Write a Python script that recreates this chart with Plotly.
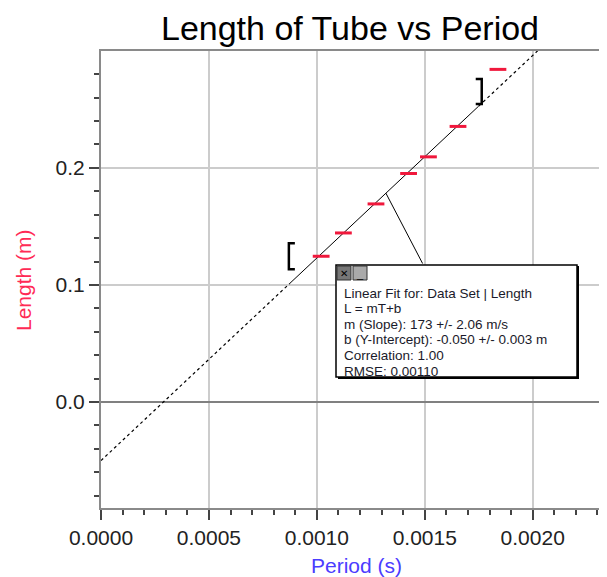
import numpy as np
import plotly.graph_objects as go

# ---- data ----
period = [0.00102, 0.001123, 0.001274, 0.001425, 0.001517, 0.001654, 0.001839]
length = [0.1245, 0.1444, 0.1692, 0.1952, 0.2094, 0.2354, 0.2841]

slope = 173.0
intercept = -0.050
fit_start, fit_end = 0.000875, 0.00175
fit_text = ["Linear Fit for: Data Set | Length",
            "L = mT+b",
            "m (Slope): 173 +/- 2.06 m/s",
            "b (Y-Intercept): -0.050 +/- 0.003 m",
            "Correlation: 1.00",
            "RMSE: 0.00110"]

x_range = [0, 0.002335]
y_range = [-0.0905, 0.2998]

FONT = "Liberation Sans, Arial, sans-serif"
OFF = 8  # page body margin

fig = go.Figure()

def fline(t0, t1):
    t = np.array([t0, t1])
    return t, slope * t + intercept

t, l = fline(0, fit_start)
fig.add_trace(go.Scatter(x=t, y=l, mode="lines", line=dict(color="black", width=1.2, dash="dot"), hoverinfo="skip"))
t, l = fline(fit_start, fit_end)
fig.add_trace(go.Scatter(x=t, y=l, mode="lines", line=dict(color="black", width=1), hoverinfo="skip"))
t, l = fline(fit_end, 0.0022)
fig.add_trace(go.Scatter(x=t, y=l, mode="lines", line=dict(color="black", width=1.2, dash="dot"), hoverinfo="skip"))

fig.add_trace(go.Scatter(x=period, y=length, mode="markers",
                         marker=dict(symbol="line-ew", size=12, line=dict(color="#f0183c", width=3))))

shapes = []
shapes.append(dict(type="path", xref="x", yref="y", xsizemode="pixel", ysizemode="pixel",
                   xanchor=fit_start, yanchor=length[0],
                   path="M 5,13 L -1,13 L -1,-13 L 5,-13", line=dict(color="black", width=2.5)))
shapes.append(dict(type="path", xref="x", yref="y", xsizemode="pixel", ysizemode="pixel",
                   xanchor=fit_end, yanchor=slope * fit_end + intercept,
                   path="M -3,27 L 3,27 L 3,2 L -3,2", line=dict(color="black", width=2.5)))

cx = 0.00132
shapes.append(dict(type="line", xref="x", yref="y", x0=cx, y0=slope * cx + intercept,
                   x1=0.00149, y1=0.1183, line=dict(color="black", width=1)))

def px(x):
    return (x - 101) / 504
def py(y):
    return (508 - y) / 457

shapes.append(dict(type="rect", xref="paper", yref="paper", x0=px(338), x1=px(579), y0=py(379), y1=py(266),
                   line=dict(color="black", width=0), fillcolor="black"))
shapes.append(dict(type="rect", xref="paper", yref="paper", x0=px(336), x1=px(577), y0=py(377), y1=py(265),
                   line=dict(color="black", width=1.5), fillcolor="white"))
shapes.append(dict(type="rect", xref="paper", yref="paper", x0=px(337), x1=px(351), y0=py(280), y1=py(266),
                   line=dict(color="#333", width=1), fillcolor="#777"))
shapes.append(dict(type="rect", xref="paper", yref="paper", x0=px(353), x1=px(367), y0=py(280), y1=py(266),
                   line=dict(color="#333", width=1), fillcolor="#aaa"))

annotations = []
for i, line in enumerate(fit_text):
    annotations.append(dict(xref="paper", yref="paper", x=px(342), y=py(293 + i * 15.6),
                            xanchor="left", yanchor="middle", text=line, showarrow=False,
                            font=dict(family=FONT, size=13.5, color="#1a1a2a")))
annotations += [
    dict(xref="paper", yref="paper", x=px(344), y=py(273), text="✕", showarrow=False,
         font=dict(family=FONT, size=10, color="black")),
    dict(xref="paper", yref="paper", x=px(360), y=py(274), text="_", showarrow=False,
         font=dict(family=FONT, size=11, color="black")),
    dict(xref="paper", yref="paper", x=0, xshift=-(101 - 23), xanchor="center", y=py(280), yanchor="middle",
         text="Length (m)", textangle=-90,
         showarrow=False, font=dict(family=FONT, size=21, color="#ff2a55")),
    dict(xref="paper", yref="paper", x=px(356), xanchor="center", y=0, yshift=-(565 - 508), yanchor="middle",
         text="Period (s)", showarrow=False, font=dict(family=FONT, size=21, color="#4b3cff")),
]

W, H = 607 - OFF, 577 - OFF
fig.update_layout(
    width=W, height=H,
    margin=dict(l=101 - OFF, r=2, t=51 - OFF, b=577 - 508, pad=0, autoexpand=False),
    paper_bgcolor="white", plot_bgcolor="white",
    showlegend=False,
    title=dict(text="Length of Tube vs Period", x=(350 - OFF) / W, xanchor="center",
               y=1 - (28 - OFF) / H, yanchor="middle", yref="container", xref="container",
               font=dict(family=FONT, size=34, color="black")),
    shapes=shapes, annotations=annotations,
    font=dict(family=FONT),
)

fig.update_xaxes(range=x_range, tick0=0, dtick=0.0005, tickformat=".4f",
                 showgrid=True, gridcolor="#cccccc", gridwidth=1.5,
                 showline=True, linecolor="#8a8a8a", linewidth=2, mirror=True,
                 ticks="outside", ticklen=10, tickcolor="#444", tickwidth=1.5,
                 tickfont=dict(family=FONT, size=21, color="#222"),
                 minor=dict(dtick=0.0001, ticks="outside", ticklen=5, tickcolor="#444", tickwidth=1.5, showgrid=False),
                 zeroline=False, automargin=False)
fig.update_yaxes(range=y_range, tick0=0, dtick=0.1, tickformat=".1f",
                 showgrid=True, gridcolor="#cccccc", gridwidth=1.5,
                 showline=True, linecolor="#8a8a8a", linewidth=2,
                 ticks="outside", ticklen=10, tickcolor="#444", tickwidth=1.5,
                 tickfont=dict(family=FONT, size=21, color="#222"),
                 minor=dict(dtick=0.02, ticks="outside", ticklen=5, tickcolor="#444", tickwidth=1.5, showgrid=False),
                 zeroline=True, zerolinecolor="#808080", zerolinewidth=2, automargin=False)

fig.write_html("out.html")
